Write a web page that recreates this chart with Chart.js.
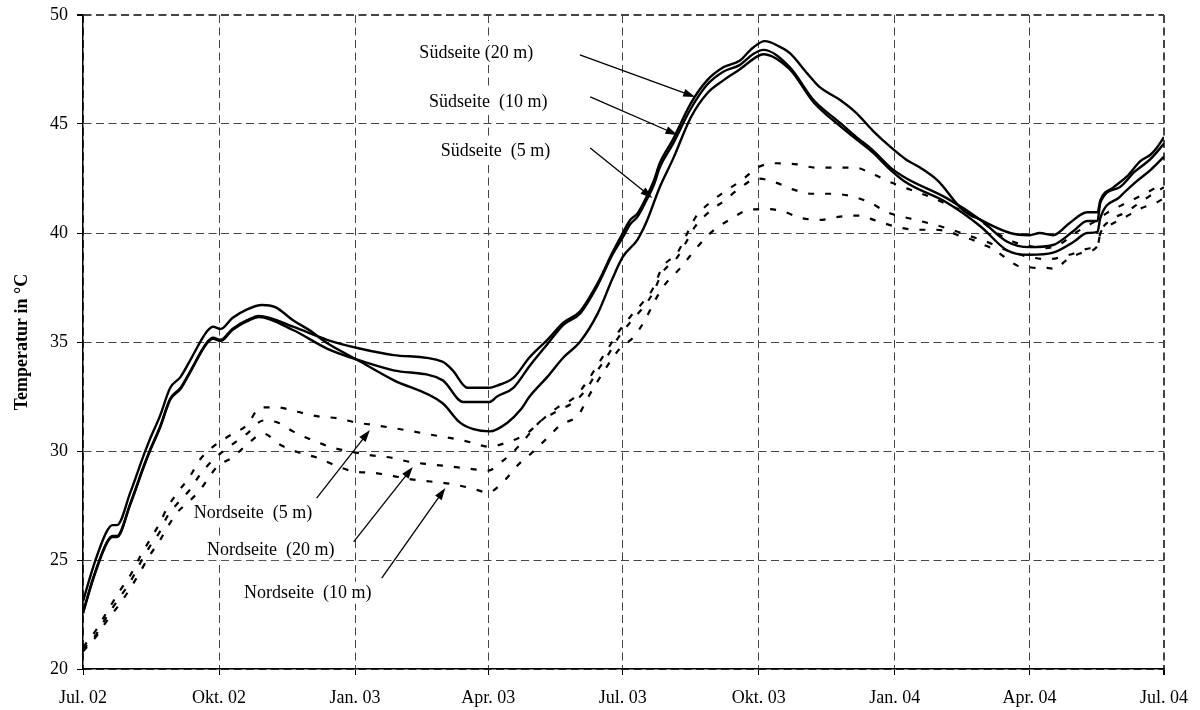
<!DOCTYPE html>
<html>
<head>
<meta charset="utf-8">
<script src="https://cdn.jsdelivr.net/npm/chart.js@4.4.0/dist/chart.umd.min.js"></script>
<style>
  html, body { margin: 0; padding: 0; background: #fff; }
  #wrap { width: 1200px; height: 710px; }
</style>
</head>
<body>
<div id="wrap"><canvas id="chart" width="1200" height="710"></canvas></div>
<script>
// x values are days since 1 Jul 2002
const tickDays = [0, 92, 184, 274, 365, 457, 549, 640, 731];
const tickLabels = ['Jul. 02', 'Okt. 02', 'Jan. 03', 'Apr. 03', 'Jul. 03', 'Okt. 03', 'Jan. 04', 'Apr. 04', 'Jul. 04'];
const yTicks = [20, 25, 30, 35, 40, 45, 50];

const sued20Days = [0, 7, 16, 20, 23, 32, 41, 45, 52, 59, 66, 72, 84, 88, 93, 101, 111, 119,
  142, 165, 187, 210, 243, 250, 260, 275, 280, 291, 302, 314, 325, 336, 348, 358, 365, 370, 375, 381,
  386, 390, 399, 411, 422, 433, 444, 453, 461, 471, 478, 490, 498, 512, 523, 534, 546, 557, 566, 578,
  595, 607, 627, 640, 647, 656, 667, 679, 686, 688, 697, 706, 715, 722, 726, 731];
const sued20Temp = [22.6, 24.2, 25.8, 26.1, 26.1, 27.6, 29.3, 30.0, 31.1, 32.4, 32.9, 33.6, 35.0, 35.2, 35.1, 35.6, 36.0, 36.2,
  35.7, 35.1, 34.7, 34.4, 34.1, 33.7, 32.9, 32.9, 33.0, 33.35, 34.3, 35.1, 35.9, 36.4, 37.7, 39.1, 40.0, 40.6, 40.9, 41.65,
  42.4, 43.2, 44.3, 45.95, 47.0, 47.6, 47.9, 48.5, 48.8, 48.55, 48.25, 47.3, 46.7, 46.1, 45.5, 44.7, 43.95, 43.35, 43.0, 42.4,
  41.05, 40.6, 40.0, 39.9, 40.0, 39.9, 40.45, 40.95, 40.95, 41.5, 42.1, 42.6, 43.3, 43.6, 43.9, 44.4];

const sued10Days = [0, 7, 16, 20, 23, 32, 41, 45, 52, 59, 66, 72, 84, 88, 93, 101, 111, 119,
  142, 165, 185, 210, 243, 257, 275, 280, 291, 302, 314, 325, 336, 348, 358, 365, 370, 375, 381, 386,
  390, 399, 411, 422, 433, 444, 453, 460, 478, 494, 512, 523, 534, 546, 557, 584, 607, 625, 640, 656,
  670, 679, 686, 688, 701, 711, 722, 731];
const sued10Temp = [22.55, 24.15, 25.75, 26.05, 26.05, 27.55, 29.25, 29.95, 31.05, 32.35, 32.85, 33.55, 34.95, 35.15, 35.05, 35.55, 35.95, 36.15,
  35.55, 34.7, 34.2, 33.7, 33.25, 32.25, 32.25, 32.5, 32.9, 33.9, 34.9, 35.8, 36.3, 37.6, 39.0, 39.8, 40.4, 40.75, 41.5, 42.2,
  43.0, 44.1, 45.7, 46.8, 47.4, 47.7, 48.2, 48.4, 47.6, 46.1, 45.05, 44.4, 43.8, 43.0, 42.5, 41.6, 40.6, 39.6, 39.35, 39.45,
  40.1, 40.55, 40.55, 41.4, 42.1, 42.8, 43.4, 44.1];

const sued5Days = [0, 7, 16, 20, 23, 32, 41, 45, 52, 59, 66, 72, 84, 88, 93, 101, 111, 121, 130,
  142, 154, 165, 185, 210, 243, 255, 264, 275, 287, 296, 302, 314, 325, 336, 348, 358, 365, 375, 381,
  390, 399, 411, 422, 433, 444, 456, 460, 478, 494, 512, 523, 534, 546, 557, 584, 607, 625, 640, 656,
  670, 679, 686, 688, 701, 713, 722, 731];
const sued5Temp = [23.1, 24.7, 26.3, 26.6, 26.6, 28.1, 29.8, 30.5, 31.6, 32.9, 33.4, 34.1, 35.5, 35.7, 35.6, 36.1, 36.5, 36.7, 36.6,
  36.0, 35.5, 34.95, 34.2, 33.25, 32.2, 31.3, 31.0, 30.9, 31.3, 31.9, 32.5, 33.4, 34.3, 35.0, 36.3, 37.9, 38.9, 39.7, 40.5,
  42.1, 43.4, 45.3, 46.4, 47.0, 47.5, 48.1, 48.2, 47.5, 46.0, 44.9, 44.3, 43.7, 42.9, 42.3, 41.4, 40.3, 39.2, 39.0, 39.1,
  39.6, 40.0, 40.05, 40.7, 41.65, 42.4, 42.9, 43.5];

const nord5Days = [0, 9, 16, 25, 32, 39, 45, 52, 57, 64, 72, 79, 88, 99, 111, 120, 131, 145, 158, 172,
  185, 196, 210, 223, 235, 248, 262, 274, 287, 300, 310, 321, 333, 341, 348, 355, 362, 370, 379, 385,
  392, 402, 408, 414, 424, 434, 446, 456, 469, 483, 495, 509, 522, 534, 547, 559, 573, 585, 598, 609,
  618, 629, 640, 651, 661, 671, 681, 686, 692, 703, 715, 726, 731];
const nord5Temp = [21.0, 21.8, 22.6, 23.6, 24.3, 25.2, 25.9, 26.7, 27.4, 28.1, 28.8, 29.6, 30.2, 30.7, 31.2, 32.0, 32.0, 31.8, 31.6, 31.5,
  31.3, 31.2, 31.05, 30.9, 30.75, 30.6, 30.4, 30.2, 30.4, 30.8, 31.4, 32.0, 32.5, 33.2, 33.95, 34.7, 35.45, 36.15, 36.85, 37.4,
  38.45, 39.1, 39.9, 40.7, 41.4, 41.9, 42.45, 43.0, 43.2, 43.15, 43.0, 43.0, 43.0, 42.7, 42.3, 42.0, 41.65, 41.3, 40.9, 40.45,
  40.0, 39.6, 39.4, 39.3, 39.5, 40.0, 40.4, 40.6, 40.9, 41.3, 41.7, 42.1, 42.3];

const nord20Days = [0, 9, 16, 25, 32, 39, 45, 52, 57, 64, 72, 79, 88, 99, 111, 122, 132, 142, 155, 169,
  183, 195, 208, 221, 233, 247, 260, 274, 283, 293, 302, 309, 320, 333, 341, 348, 355, 362, 370, 379,
  385, 392, 402, 408, 414, 424, 434, 444, 456, 469, 480, 493, 505, 519, 532, 544, 557, 572, 585, 598,
  611, 625, 640, 653, 667, 681, 686, 688, 693, 705, 717, 726, 731];
const nord20Temp = [20.9, 21.6, 22.4, 23.3, 24.0, 24.9, 25.6, 26.3, 27.0, 27.6, 28.2, 28.9, 29.6, 30.2, 30.8, 31.4, 31.3, 30.9, 30.5, 30.15,
  29.95, 29.8, 29.7, 29.5, 29.4, 29.3, 29.2, 29.1, 29.5, 30.1, 30.8, 31.35, 31.8, 32.3, 32.9, 33.7, 34.4, 35.2, 35.9, 36.6,
  37.2, 38.2, 38.9, 39.6, 40.3, 41.0, 41.5, 42.05, 42.5, 42.3, 42.0, 41.8, 41.8, 41.7, 41.4, 40.95, 40.7, 40.45, 40.2, 39.9,
  39.6, 39.2, 38.9, 38.8, 39.0, 39.3, 39.4, 40.0, 40.5, 40.95, 41.5, 41.9, 42.1];

const nord10Days = [0, 9, 16, 25, 32, 39, 45, 52, 57, 64, 72, 79, 91, 101, 111, 122, 133, 145, 158, 172,
  184, 196, 210, 222, 235, 248, 262, 274, 285, 294, 304, 314, 323, 335, 341, 348, 355, 363, 372, 380,
  386, 392, 404, 416, 426, 437, 450, 462, 473, 485, 498, 512, 524, 537, 549, 563, 576, 588, 595, 601,
  607, 613, 619, 626, 632, 638, 644, 652, 657, 665, 676, 686, 688, 693, 704, 716, 726, 731];
const nord10Temp = [20.8, 21.5, 22.2, 23.0, 23.7, 24.5, 25.2, 25.9, 26.5, 27.2, 27.7, 28.2, 29.3, 29.7, 30.3, 30.8, 30.3, 29.95, 29.7, 29.3,
  29.05, 29.0, 28.85, 28.7, 28.6, 28.5, 28.3, 28.1, 28.65, 29.35, 29.95, 30.6, 31.2, 31.65, 32.4, 33.2, 33.95, 34.7, 35.2, 36.0,
  36.8, 37.5, 38.4, 39.4, 40.1, 40.6, 41.05, 41.1, 41.0, 40.7, 40.6, 40.75, 40.8, 40.55, 40.3, 40.15, 40.15, 40.0, 39.8, 39.7,
  39.5, 39.35, 39.1, 38.75, 38.5, 38.45, 38.4, 38.4, 38.35, 38.75, 39.1, 39.4, 40.0, 40.3, 40.7, 41.15, 41.4, 41.6];

// label text + arrow, in data coordinates (day, °C)
const notes = [
  { text: 'Südseite (20 m)', tx: 266, ty: 48.3, from: [336, 48.17], to: [414, 46.24] },
  { text: 'Südseite  (10 m)', tx: 274, ty: 46.06, from: [343, 46.24], to: [402, 44.5] },
  { text: 'Südseite  (5 m)', tx: 279, ty: 43.8, from: [343, 43.9], to: [385, 41.6] },
  { text: 'Nordseite  (5 m)', tx: 115, ty: 27.2, from: [158, 27.84], to: [194, 30.96] },
  { text: 'Nordseite  (20 m)', tx: 127, ty: 25.5, from: [183, 25.83], to: [223, 29.27] },
  { text: 'Nordseite  (10 m)', tx: 152, ty: 23.5, from: [202, 24.17], to: [245, 28.3] }
];

const serif = "'Liberation Serif', 'Times New Roman', serif";

function series(label, days, temps, dashed) {
  return {
    label: label,
    data: days.map((d, i) => ({ x: d, y: temps[i] })),
    borderColor: '#000',
    borderWidth: dashed ? 2.2 : 2.4,
    borderDash: dashed ? [6, 11] : [],
    pointRadius: 0,
    fill: false,
    cubicInterpolationMode: 'monotone'
  };
}

const notesPlugin = {
  id: 'notes',
  beforeDatasetsDraw(chart) {
    const { ctx, scales: { x, y } } = chart;
    ctx.save();
    ctx.font = '18px ' + serif;
    ctx.fillStyle = '#fff';
    notes.forEach(n => {
      const w = ctx.measureText(n.text).width + 6;
      ctx.fillRect(x.getPixelForValue(n.tx) - w / 2, y.getPixelForValue(n.ty) - 11, w, 22);
    });
    ctx.restore();
  },
  afterDatasetsDraw(chart) {
    const { ctx, scales: { x, y } } = chart;
    ctx.save();
    ctx.font = '18px ' + serif;
    ctx.fillStyle = '#000';
    ctx.strokeStyle = '#000';
    ctx.textAlign = 'center';
    ctx.textBaseline = 'middle';
    ctx.lineWidth = 1.3;
    notes.forEach(n => {
      ctx.fillText(n.text, x.getPixelForValue(n.tx), y.getPixelForValue(n.ty) + 1);
      const x1 = x.getPixelForValue(n.from[0]), y1 = y.getPixelForValue(n.from[1]);
      const x2 = x.getPixelForValue(n.to[0]), y2 = y.getPixelForValue(n.to[1]);
      const a = Math.atan2(y2 - y1, x2 - x1);
      ctx.beginPath();
      ctx.moveTo(x1, y1);
      ctx.lineTo(x2 - 6 * Math.cos(a), y2 - 6 * Math.sin(a));
      ctx.stroke();
      ctx.beginPath();
      ctx.moveTo(x2, y2);
      ctx.lineTo(x2 - 12 * Math.cos(a) + 4 * Math.sin(a), y2 - 12 * Math.sin(a) - 4 * Math.cos(a));
      ctx.lineTo(x2 - 12 * Math.cos(a) - 4 * Math.sin(a), y2 - 12 * Math.sin(a) + 4 * Math.cos(a));
      ctx.closePath();
      ctx.fill();
    });
    ctx.restore();
  }
};

new Chart(document.getElementById('chart'), {
  type: 'line',
  data: {
    datasets: [
      series('Südseite (20 m)', sued20Days, sued20Temp, false),
      series('Südseite (10 m)', sued10Days, sued10Temp, false),
      series('Südseite (5 m)', sued5Days, sued5Temp, false),
      series('Nordseite (5 m)', nord5Days, nord5Temp, true),
      series('Nordseite (20 m)', nord20Days, nord20Temp, true),
      series('Nordseite (10 m)', nord10Days, nord10Temp, true)
    ]
  },
  options: {
    responsive: false,
    animation: false,
    devicePixelRatio: 1,
    layout: { padding: { top: 15, right: 36, bottom: 0, left: 0 } },
    plugins: {
      legend: { display: false },
      tooltip: { enabled: false }
    },
    scales: {
      x: {
        type: 'linear',
        min: 0,
        max: 731,
        afterBuildTicks: (s) => { s.ticks = tickDays.map(v => ({ value: v })); },
        afterFit: (s) => { s.height = 41; s.paddingLeft = 0; s.paddingRight = 0; },
        ticks: {
          autoSkip: false,
          maxRotation: 0,
          padding: 12,
          color: '#000',
          font: { family: serif, size: 18 },
          callback: (v) => tickLabels[tickDays.indexOf(v)]
        },
        grid: {
          color: '#444',
          lineWidth: (c) => (c.tick && c.tick.value === 731 ? 2 : 1),
          tickColor: '#000',
          tickLength: 6,
          tickBorderDash: []
        },
        border: { display: true, color: '#000', width: 1.5, dash: [8, 4.5] }
      },
      y: {
        min: 20,
        max: 50,
        afterBuildTicks: (s) => { s.ticks = yTicks.map(v => ({ value: v })); },
        afterFit: (s) => { s.width = 83; s.paddingTop = 0; s.paddingBottom = 0; },
        ticks: {
          padding: 9,
          color: '#000',
          font: { family: serif, size: 18 }
        },
        grid: {
          color: '#444',
          lineWidth: (c) => (c.tick && c.tick.value === 50 ? 2 : 1),
          tickColor: '#000',
          tickLength: 6,
          tickBorderDash: []
        },
        border: { display: true, color: '#000', width: 1.5, dash: [8, 4.5] },
        title: {
          display: true,
          text: 'Temperatur in °C',
          color: '#000',
          font: { family: serif, size: 18, weight: 'bold' },
          padding: { top: 12, bottom: 0 }
        }
      }
    }
  },
  plugins: [notesPlugin]
});
</script>
</body>
</html>
